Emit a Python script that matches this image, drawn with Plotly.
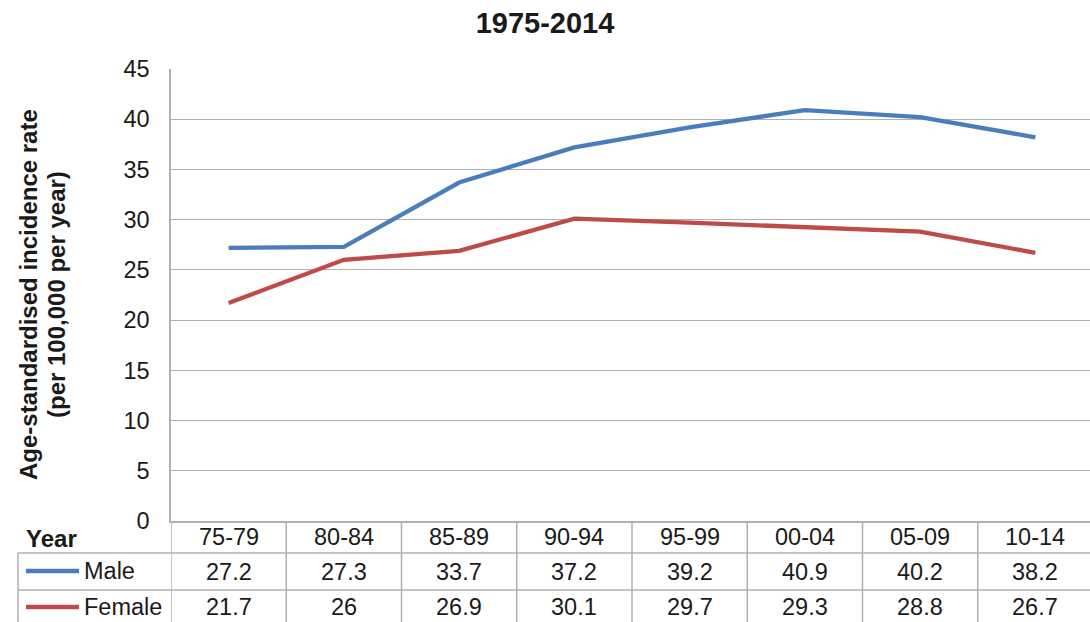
import plotly.graph_objects as go

periods = ["75-79", "80-84", "85-89", "90-94", "95-99", "00-04", "05-09", "10-14"]
male = [27.2, 27.3, 33.7, 37.2, 39.2, 40.9, 40.2, 38.2]
female = [21.7, 26, 26.9, 30.1, 29.7, 29.3, 28.8, 26.7]
male_labels = ["27.2", "27.3", "33.7", "37.2", "39.2", "40.9", "40.2", "38.2"]
female_labels = ["21.7", "26", "26.9", "30.1", "29.7", "29.3", "28.8", "26.7"]

W, H = 1090, 622
L, R, T, B = 171, 0, 69, 101
PW = W - L - R
PH = H - T - B
FONT = "Liberation Sans, Arial, sans-serif"
BLUE = "#4A7EBB"
RED = "#BE4B48"
GRID = "#b0b0b0"
TXT = "#1a1a1a"
FS = 23.5


def py(px):
    return (H - B - px) / PH


def pxx(px):
    return (px - L) / PW


idx = list(range(len(periods)))
fig = go.Figure()
fig.add_trace(go.Scatter(x=idx, y=male, mode="lines", name="Male",
                         line=dict(color=BLUE, width=4.3)))
fig.add_trace(go.Scatter(x=idx, y=female, mode="lines", name="Female",
                         line=dict(color=RED, width=4.3)))

shapes = []
for ypx in (553, 590):
    shapes.append(dict(type="line", xref="paper", yref="paper",
                       x0=pxx(18), x1=1.0, y0=py(ypx), y1=py(ypx),
                       line=dict(color=GRID, width=1.5)))
shapes.append(dict(type="line", xref="paper", yref="paper",
                   x0=pxx(18), x1=pxx(18), y0=py(553), y1=py(H + 2),
                   line=dict(color=GRID, width=1.5)))
for i in range(len(periods)):
    shapes.append(dict(type="line", xref="x", yref="paper",
                       x0=i - 0.5, x1=i - 0.5, y0=py(521), y1=py(H + 2),
                       line=dict(color=GRID, width=1.5)))
for ypx, col in ((571, BLUE), (607, RED)):
    shapes.append(dict(type="line", xref="paper", yref="paper",
                       x0=pxx(26), x1=pxx(79), y0=py(ypx), y1=py(ypx),
                       line=dict(color=col, width=4.3)))


def txt(x, y, text, xref="x", size=FS, xanchor="center", angle=0):
    return dict(x=x, y=y, xref=xref, yref="paper", text=text, showarrow=False,
                xanchor=xanchor, yanchor="middle", textangle=angle,
                font=dict(size=size, color=TXT, family=FONT))


ann = []
for i, p in enumerate(periods):
    ann.append(txt(i, py(537), p))
    ann.append(txt(i, py(572), male_labels[i]))
    ann.append(txt(i, py(607), female_labels[i]))
ann.append(txt(pxx(24), py(538), "<b>Year</b>", xref="paper", size=24, xanchor="left"))
ann.append(txt(pxx(82), py(571), "Male", xref="paper", xanchor="left"))
ann.append(txt(pxx(82), py(607), "Female", xref="paper", xanchor="left"))
ann.append(txt(pxx(28), 0.5, "<b>Age-standardised incidence rate</b>", xref="paper",
               size=24, angle=-90))
ann.append(txt(pxx(56), 0.5, "<b>(per 100,000 per year)</b>", xref="paper",
               size=24, angle=-90))

fig.update_layout(
    width=W, height=H,
    margin=dict(l=L, r=R, t=T, b=B),
    paper_bgcolor="white", plot_bgcolor="white",
    showlegend=False,
    title=dict(text="<b>1975-2014</b>", x=0.5, xref="container", xanchor="center",
               y=1 - 23 / H, yanchor="middle", yref="container",
               font=dict(size=29, color=TXT, family=FONT)),
    xaxis=dict(range=[-0.5, len(periods) - 0.5 - 3 / 115.3], showgrid=False,
               showticklabels=False, zeroline=False, showline=True,
               linecolor=GRID, linewidth=1.5, fixedrange=True),
    yaxis=dict(range=[0, 45], dtick=5, tick0=0, showgrid=True, gridcolor=GRID,
               gridwidth=1.4, zeroline=False, showline=True, linecolor=GRID,
               linewidth=1.5, ticks="", ticklabelstandoff=15,
               tickfont=dict(size=FS, color=TXT, family=FONT)),
    shapes=shapes, annotations=ann,
)
fig.write_html(
    "out.html",
    config={"displayModeBar": False},
    post_script="document.body.style.margin='0';document.body.style.overflow='hidden';"
                "document.documentElement.style.overflow='hidden';",
)
